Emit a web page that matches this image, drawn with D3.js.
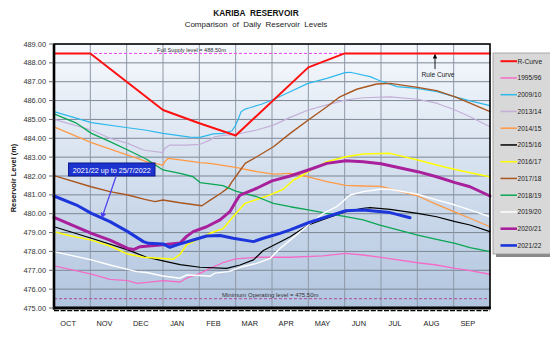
<!DOCTYPE html>
<html>
<head>
<meta charset="utf-8">
<script src="https://cdn.jsdelivr.net/npm/d3@7"></script>
<style>
  body { margin: 0; background: #ffffff; }
  svg { display: block; font-family: "Liberation Sans", Arial, sans-serif; }
</style>
</head>
<body>
<svg id="chart" width="550" height="348"></svg>
<script>
// Hydrological year runs October -> September; x values are month positions (0 = 1 Oct, 12 = 30 Sep).
const monthLabels = ["OCT", "NOV", "DEC", "JAN", "FEB", "MAR", "APR", "MAY", "JUN", "JUL", "AUG", "SEP"];
const levelTicks = [475, 476, 477, 478, 479, 480, 481, 482, 483, 484, 485, 486, 487, 488, 489];
const fullSupplyLevel = 488.5;
const minOperatingLevel = 475.5;

// Lake levels (m) as [month position, level]
const rCurve = [[0, 488.5], [1, 488.5], [2, 487.0], [3, 485.5], [4, 484.8], [5, 484.15], [7, 487.76], [8, 488.5], [12, 488.5]];

const y1995 = [[0, 477.23], [1.03, 476.8], [1.54, 476.52], [2.03, 476.45], [2.28, 476.31], [2.5, 476.35], [3.0, 476.45], [3.47, 476.38],
  [3.65, 476.58], [4.02, 476.84], [4.29, 477.1], [4.65, 477.4], [5.0, 477.6], [5.58, 477.69], [6.5, 477.69], [7.41, 477.76],
  [8.03, 477.9], [8.51, 477.81], [9.0, 477.69], [10.01, 477.4], [10.53, 477.28], [11.04, 477.1], [11.45, 476.98], [12, 476.79]];

const y2009 = [[0, 485.41], [1.03, 484.83], [2.03, 484.56], [2.5, 484.44], [3.0, 484.26], [3.74, 484.06], [4.02, 484.05], [4.38, 484.23],
  [4.65, 484.26], [4.9, 484.4], [5.0, 484.7], [5.06, 484.97], [5.15, 485.41], [5.26, 485.55], [5.39, 485.62], [5.73, 485.82],
  [6.0, 486.03], [6.5, 486.47], [6.99, 486.91], [7.51, 487.18], [8.01, 487.48], [8.15, 487.5], [8.7, 487.27], [8.97, 487.05],
  [9.44, 486.74], [9.99, 486.65], [10.54, 486.47], [11.04, 486.2], [11.45, 485.98], [12, 485.73]];

const y2013 = [[0, 485.0], [1.03, 484.44], [1.54, 484.0], [2.03, 483.73], [2.46, 483.38], [3.0, 483.24], [3.05, 483.47], [3.19, 483.64],
  [3.65, 483.64], [4.02, 483.68], [4.29, 483.9], [4.43, 484.08], [4.65, 484.15], [5.0, 484.2], [5.58, 484.44], [6.04, 484.7],
  [6.5, 485.11], [7.0, 485.5], [7.51, 485.77], [8.03, 486.03], [8.51, 486.15], [9.25, 486.2], [10.01, 486.07], [10.53, 485.86],
  [11.04, 485.5], [11.45, 485.14], [12, 484.61]];

const y2014 = [[0, 484.61], [1.03, 483.77], [2.03, 483.11], [2.55, 482.76], [3.0, 482.58], [3.05, 482.76], [3.14, 482.94], [3.47, 482.85],
  [4.02, 482.71], [4.29, 482.67], [5.0, 482.46], [5.58, 482.23], [6.04, 482.1], [6.5, 482.14], [7.0, 481.96], [7.51, 481.7],
  [8.03, 481.5], [8.5, 481.47], [9.0, 481.45], [10.01, 480.94], [10.53, 480.5], [11.04, 480.08], [11.45, 479.76], [12, 479.31]];

const y2015 = [[0, 479.31], [1.03, 478.7], [2.03, 478.08], [2.55, 477.69], [3.0, 477.5], [3.47, 477.3], [4.02, 477.16], [4.75, 477.1],
  [5.12, 477.28], [5.49, 477.55], [5.76, 478.05], [6.22, 478.5], [6.5, 478.78], [7.0, 479.4], [7.51, 479.76], [8.03, 480.11],
  [8.51, 480.29], [8.7, 480.32], [9.25, 480.23], [10.01, 480.02], [10.53, 479.84], [11.04, 479.58], [11.45, 479.4], [12, 479.05]];

const y2016 = [[0, 479.05], [0.35, 478.87], [1.03, 478.6], [1.54, 478.29], [2.03, 477.86], [2.46, 477.69], [3.0, 477.63], [3.28, 477.58],
  [3.47, 477.85], [3.65, 478.35], [4.02, 478.7], [4.29, 478.96], [4.65, 479.2], [5.0, 480.0], [5.26, 480.55], [5.58, 480.75],
  [5.95, 481.0], [6.31, 481.3], [6.59, 481.79], [6.77, 481.96], [7.0, 482.23], [7.51, 482.76], [8.03, 483.02], [8.51, 483.17],
  [9.25, 483.2], [10.01, 482.85], [10.53, 482.58], [11.04, 482.35], [11.45, 482.17], [12, 481.96]];

const y2017 = [[0, 482.02], [1.02, 481.43], [1.54, 481.17], [2.03, 480.99], [2.5, 480.76], [2.78, 480.64], [3.0, 480.73], [3.47, 480.58],
  [4.07, 480.42], [4.3, 480.72], [4.6, 481.1], [4.8, 481.38], [4.9, 481.7], [5.0, 481.96], [5.26, 482.67], [5.58, 483.02],
  [6.04, 483.55], [6.5, 484.26], [7.0, 484.97], [7.51, 485.67], [7.87, 486.2], [8.33, 486.6], [8.88, 486.88], [9.25, 486.91],
  [10.01, 486.7], [10.53, 486.53], [11.04, 486.2], [11.45, 485.86], [12, 485.41]];

const y2018 = [[0, 485.29], [0.62, 484.8], [1.03, 484.26], [1.54, 483.82], [2.03, 483.38], [2.55, 482.89], [3.0, 482.32], [3.47, 482.14],
  [3.83, 481.96], [4.02, 481.65], [4.29, 481.58], [4.65, 481.49], [5.0, 481.2], [5.58, 480.9], [6.04, 480.55], [6.5, 480.37],
  [7.0, 480.2], [7.51, 480.02], [8.03, 479.84], [8.51, 479.67], [8.97, 479.4], [10.01, 478.87], [10.53, 478.64], [11.04, 478.43],
  [11.45, 478.2], [12, 477.99]];

const y2019 = [[0, 477.99], [1.03, 477.55], [1.54, 477.28], [2.03, 477.05], [2.28, 476.93], [2.55, 476.88], [3.0, 476.7], [3.47, 476.58],
  [3.65, 476.75], [4.02, 476.72], [4.29, 476.68], [4.43, 476.85], [4.8, 476.93], [5.19, 477.19], [5.58, 477.37], [5.95, 477.63],
  [6.22, 478.16], [6.5, 478.6], [7.0, 479.4], [7.41, 480.02], [7.78, 480.37], [8.15, 480.99], [8.51, 481.17], [8.97, 481.3],
  [9.25, 481.3], [10.01, 481.03], [10.53, 480.73], [11.04, 480.46], [11.45, 480.2], [12, 479.84]];

const y2020 = [[0, 479.81], [1.03, 478.96], [1.54, 478.6], [2.03, 478.16], [2.19, 478.1], [2.37, 478.25], [3.0, 478.36], [3.47, 478.45],
  [3.65, 478.8], [3.83, 479.05], [4.2, 479.31], [4.57, 479.67], [4.84, 480.11], [5.0, 480.64], [5.12, 480.99], [5.58, 481.35],
  [6.0, 481.74], [6.5, 482.0], [7.0, 482.32], [7.51, 482.67], [8.03, 482.81], [8.51, 482.76], [9.0, 482.65], [10.01, 482.23],
  [10.53, 481.96], [11.04, 481.65], [11.45, 481.43], [12, 480.94]];

const y2021 = [[0, 480.94], [0.62, 480.46], [1.03, 480.02], [1.54, 479.58], [2.03, 479.05], [2.46, 478.52], [2.6, 478.43], [3.0, 478.4],
  [3.19, 478.22], [3.47, 478.4], [3.74, 478.55], [4.2, 478.82], [4.57, 478.84], [4.93, 478.7], [5.49, 478.52], [5.76, 478.7],
  [6.22, 478.96], [6.5, 479.14], [7.0, 479.52], [7.51, 479.84], [8.03, 480.16], [8.51, 480.2], [9.25, 480.06], [9.8, 479.79]];

// Series as listed in the legend
const seriesNames = ["R-Curve", "1995/96", "2009/10", "2013/14", "2014/15", "2015/16", "2016/17", "2017/18", "2018/19", "2019/20", "2020/21", "2021/22"];
const seriesData = [rCurve, y1995, y2009, y2013, y2014, y2015, y2016, y2017, y2018, y2019, y2020, y2021];

// Line styles per series
const lineStyle = {
  "R-Curve": { color: "#ff1010", width: 2 },
  "1995/96": { color: "#f46cc8", width: 1.3 },
  "2009/10": { color: "#2fb8ec", width: 1.2 },
  "2013/14": { color: "#c3afd8", width: 1.2 },
  "2014/15": { color: "#ff9a45", width: 1.3 },
  "2015/16": { color: "#000000", width: 1.2 },
  "2016/17": { color: "#ffff00", width: 1.5 },
  "2017/18": { color: "#a9561f", width: 1.4 },
  "2018/19": { color: "#0aa653", width: 1.3 },
  "2019/20": { color: "#ffffff", width: 1.4 },
  "2020/21": { color: "#a8209c", width: 3 },
  "2021/22": { color: "#1c36dc", width: 3 }
};
const drawOrder = ["1995/96", "2009/10", "2013/14", "2014/15", "2015/16", "2016/17", "2017/18", "2018/19", "2019/20", "2020/21", "2021/22", "R-Curve"];

const svg = d3.select("#chart");
const plot = { left: 54, right: 490, top: 44, bottom: 308 };

const x = d3.scaleLinear().domain([0, 12]).range([plot.left, plot.right]);
const y = d3.scaleLinear().domain([475, 489]).range([plot.bottom, plot.top]);

// Plot background gradient
const defs = svg.append("defs");
const grad = defs.append("linearGradient").attr("id", "plotBg").attr("x1", 0).attr("y1", 0).attr("x2", 0).attr("y2", 1);
grad.append("stop").attr("offset", "0%").attr("stop-color", "#f6f9fd");
grad.append("stop").attr("offset", "100%").attr("stop-color", "#b1c5df");

const arrowDark = defs.append("marker").attr("id", "arrowDark").attr("viewBox", "0 0 10 10")
  .attr("refX", 9).attr("refY", 5).attr("markerWidth", 5).attr("markerHeight", 5).attr("orient", "auto");
arrowDark.append("path").attr("d", "M0,0 L10,5 L0,10 z").attr("fill", "#000");
const arrowBlue = defs.append("marker").attr("id", "arrowBlue").attr("viewBox", "0 0 10 10")
  .attr("refX", 9).attr("refY", 5).attr("markerWidth", 5).attr("markerHeight", 5).attr("orient", "auto");
arrowBlue.append("path").attr("d", "M0,0 L10,5 L0,10 z").attr("fill", "#4a40f0");

svg.append("rect").attr("x", plot.left).attr("y", plot.top)
  .attr("width", plot.right - plot.left).attr("height", plot.bottom - plot.top)
  .attr("fill", "url(#plotBg)");

// Horizontal gridlines
svg.append("g").selectAll("line").data(levelTicks.slice(1, -1)).join("line")
  .attr("x1", plot.left).attr("x2", plot.right)
  .attr("y1", d => y(d)).attr("y2", d => y(d))
  .attr("stroke", "#7d8794").attr("stroke-width", 1);

// Vertical gridlines at month boundaries
svg.append("g").selectAll("line").data(d3.range(1, 12)).join("line")
  .attr("x1", d => x(d)).attr("x2", d => x(d))
  .attr("y1", plot.top).attr("y2", plot.bottom)
  .attr("stroke", "#8e98a6").attr("stroke-width", 1);

// Reference levels
svg.append("line").attr("x1", plot.left).attr("x2", plot.right)
  .attr("y1", y(fullSupplyLevel)).attr("y2", y(fullSupplyLevel))
  .attr("stroke", "#ee44ee").attr("stroke-width", 1).attr("stroke-dasharray", "3,2");
svg.append("line").attr("x1", plot.left).attr("x2", plot.right)
  .attr("y1", y(minOperatingLevel)).attr("y2", y(minOperatingLevel))
  .attr("stroke", "#b060a8").attr("stroke-width", 1.2).attr("stroke-dasharray", "3,2");

svg.append("text").attr("x", 157).attr("y", y(fullSupplyLevel) - 1.8)
  .attr("font-size", 5.6).attr("fill", "#333").text("Full Supply level  = 488.50m");
svg.append("text").attr("x", 222).attr("y", y(minOperatingLevel) - 2)
  .attr("font-size", 6).attr("fill", "#333").text("Minimum  Operating  level  = 475.50m");

// Series lines
const line = d3.line().x(d => x(d[0])).y(d => y(d[1]));
svg.append("g").selectAll("path").data(drawOrder).join("path")
  .attr("d", n => line(seriesData[seriesNames.indexOf(n)]))
  .attr("fill", "none")
  .attr("stroke", n => lineStyle[n].color)
  .attr("stroke-width", n => lineStyle[n].width)
  .attr("stroke-linejoin", "round").attr("stroke-linecap", "round");

// Plot frame
svg.append("rect").attr("x", plot.left).attr("y", plot.top)
  .attr("width", plot.right - plot.left).attr("height", plot.bottom - plot.top)
  .attr("fill", "none").attr("stroke", "#000").attr("stroke-width", 1.6);
svg.append("line").attr("x1", plot.left).attr("x2", plot.left).attr("y1", plot.top).attr("y2", plot.bottom + 1.5)
  .attr("stroke", "#000").attr("stroke-width", 2.6);
svg.append("line").attr("x1", plot.left - 1).attr("x2", plot.right + 0.8).attr("y1", plot.bottom).attr("y2", plot.bottom)
  .attr("stroke", "#000").attr("stroke-width", 2.8);
svg.append("line").attr("x1", plot.left).attr("x2", plot.right).attr("y1", plot.bottom + 2.6).attr("y2", plot.bottom + 2.6)
  .attr("stroke", "#000").attr("stroke-width", 1.3).attr("stroke-dasharray", "5,1.6");

// Y axis tick labels
svg.append("g").selectAll("text").data(levelTicks).join("text")
  .attr("x", 46).attr("y", d => y(d) + 2.6)
  .attr("text-anchor", "end").attr("font-size", 7.4).attr("fill", "#333")
  .text(d => d3.format(".2f")(d));
svg.append("g").selectAll("line").data(levelTicks).join("line")
  .attr("x1", 49).attr("x2", plot.left).attr("y1", d => y(d)).attr("y2", d => y(d))
  .attr("stroke", "#444").attr("stroke-width", 0.8);

// Month labels
svg.append("g").selectAll("text").data(monthLabels).join("text")
  .attr("x", (d, i) => x(i + 0.5) - 4).attr("y", 326)
  .attr("text-anchor", "middle").attr("font-size", 7.4).attr("fill", "#222")
  .text(d => d);

// Axis title
svg.append("text").attr("transform", "translate(15.5,178) rotate(-90)")
  .attr("text-anchor", "middle").attr("font-size", 7.4).attr("font-weight", "bold").attr("fill", "#111")
  .text("Reservoir Level (m)");

// Titles
svg.append("text").attr("x", 256).attr("y", 16).attr("text-anchor", "middle")
  .attr("font-size", 8.3).attr("font-weight", "bold").attr("fill", "#111").attr("xml:space", "preserve")
  .text("KARIBA  RESERVOIR");
svg.append("text").attr("x", 256).attr("y", 27).attr("text-anchor", "middle")
  .attr("font-size", 8).attr("fill", "#222").attr("xml:space", "preserve")
  .text("Comparison  of  Daily  Reservoir  Levels");

// Rule curve annotation
svg.append("line").attr("x1", 435).attr("x2", 435).attr("y1", 69).attr("y2", 54.5)
  .attr("stroke", "#000").attr("stroke-width", 0.9).attr("marker-end", "url(#arrowDark)");
svg.append("text").attr("x", 438).attr("y", 77).attr("text-anchor", "middle")
  .attr("font-size", 6.6).attr("fill", "#222").text("Rule Curve");

// Current-year callout
svg.append("rect").attr("x", 68.5).attr("y", 163).attr("width", 86.5).attr("height", 13)
  .attr("fill", "#1d33d0").attr("stroke", "#0b178a").attr("stroke-width", 1);
svg.append("text").attr("x", 111.7).attr("y", 172.5).attr("text-anchor", "middle")
  .attr("font-size", 7.2).attr("fill", "#ffffff").text("2021/22 up to 25/7/2022");
svg.append("line").attr("x1", 116).attr("y1", 176.5).attr("x2", 101.8).attr("y2", 218)
  .attr("stroke", "#4a40f0").attr("stroke-width", 1.2).attr("marker-end", "url(#arrowBlue)");

// Legend
const legendX = 493, legendY = 53;
svg.append("rect").attr("x", legendX + 3).attr("y", legendY + 3).attr("width", 62).attr("height", 201)
  .attr("fill", "#8a8a8a");
svg.append("rect").attr("x", legendX).attr("y", legendY).attr("width", 62).attr("height", 201)
  .attr("fill", "#d8d8d8").attr("stroke", "#9a9a9a").attr("stroke-width", 0.8);
const legendItems = svg.append("g").selectAll("g").data(seriesNames).join("g")
  .attr("transform", (d, i) => `translate(0,${61.2 + i * 16.75})`);
legendItems.append("line").attr("x1", 500.5).attr("x2", 517).attr("y1", 0).attr("y2", 0)
  .attr("stroke", d => lineStyle[d].color)
  .attr("stroke-width", d => Math.max(1.5, Math.min(lineStyle[d].width, 2.6)));
legendItems.append("text").attr("x", 517.5).attr("y", 2.4)
  .attr("font-size", 6.6).attr("fill", "#222").text(d => d);
</script>
</body>
</html>
